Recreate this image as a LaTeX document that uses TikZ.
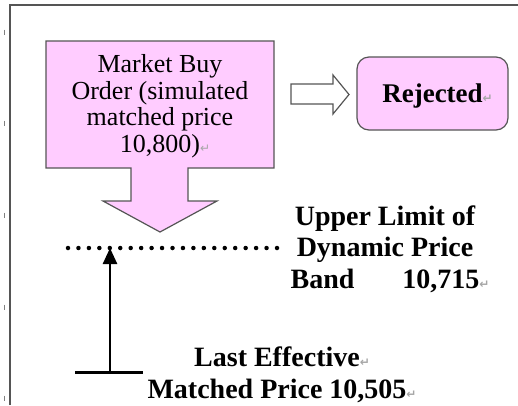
\documentclass[tikz,border=0pt]{standalone}
\usepackage{fontspec}
\setmainfont{Liberation Serif}
\newfontfamily\symfont{DejaVu Sans}
\usetikzlibrary{arrows.meta}
\definecolor{orderpink}{HTML}{FFCCFF}
\definecolor{edgegray}{HTML}{555555}
\newcommand{\pmark}{\rlap{\symfont\fontsize{12}{12}\selectfont\color{gray!70}↵}}

\begin{document}
\begin{tikzpicture}[
    x=1pt, y=-1pt,
    box/.style={draw=edgegray, fill=orderpink, line width=1.2pt},
    order/.style={font=\fontsize{26}{26.5}\selectfont, align=center},
    price/.style={font=\bfseries\fontsize{28}{31.5}\selectfont, align=center},
    tick/.style={gray, line width=0.8pt}
]
    \useasboundingbox (0,0) rectangle (518,405);

    % Page frame and ruler ticks
    \draw[edgegray, line width=1.2pt] (10,405) |- (518,5);
    \foreach \y in {32,123,215,307,398}
        \draw[tick] (4,\y-2.5) -- (4,\y+2.5);

    % Market order callout (top left)
    \draw[box] (46,41) -- (274,41) -- (274,168) -- (188,168) -- (188,201)
        -- (217,201) -- (160,232) -- (103,201) -- (131,201) -- (131,168)
        -- (46,168) -- cycle;
    \node[order] (order) at (160,106) {Market Buy\\Order (simulated\\matched price\\ 10,800)\pmark};

    % Rejected
    \node[box, rounded corners=12pt, minimum width=151pt, minimum height=73pt, text depth=0pt,
          font=\bfseries\fontsize{27}{27}\selectfont] (rej) at (432.5,93.5) {Rejected\pmark};
    \draw[edgegray, fill=white, line width=1.2pt] (291,84) -- (333,84) -- (333,75)
        -- (349,94.5) -- (333,114) -- (333,104) -- (291,104) -- cycle;

    % Dynamic price band limit
    \coordinate (dl) at (68,248);
    \coordinate (dr) at (277,248);
    \coordinate (lim) at (110,248);
    \draw[line width=4.5pt, line cap=round, dash pattern=on 0pt off 10.45pt] (dl) -- (dr);
    \node[price] (upper) at (385,249) {Upper Limit of\\Dynamic Price\\Band\hspace{48pt}10,715\pmark};

    % Last effective matched price
    \coordinate (base) at (110,372);
    \draw[line width=3pt] (75,372) -- (143,372);
    \draw[-{Triangle[width=14pt,length=16pt]}, line width=2.5pt] (base) -- (lim);
    \node[price] (last) at (277,375) {Last Effective\pmark\\Matched Price 10,505\pmark};
\end{tikzpicture}
\end{document}
